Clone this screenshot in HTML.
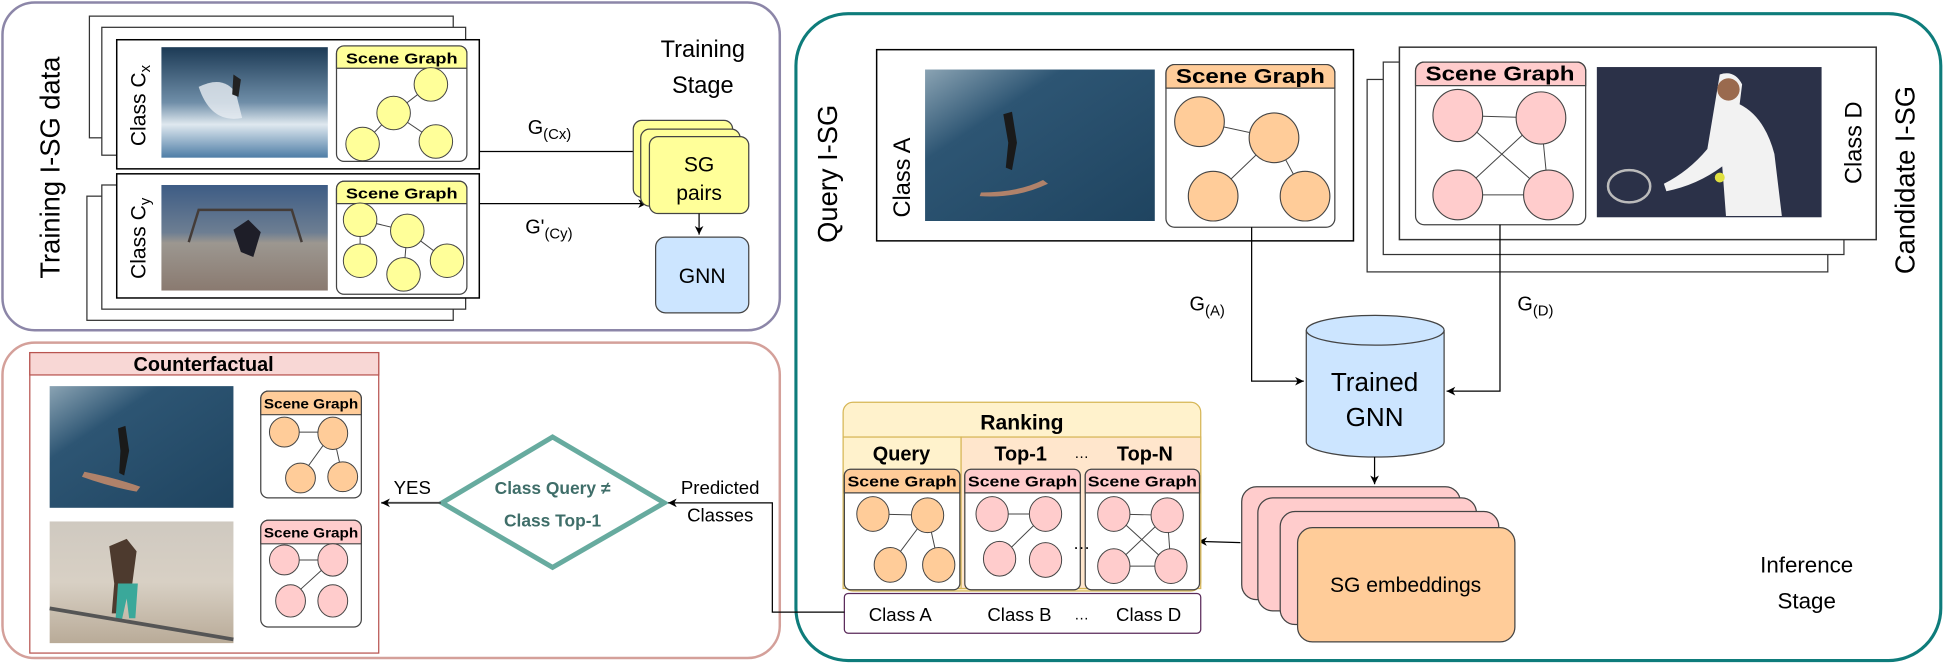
<!DOCTYPE html>
<html><head><meta charset="utf-8"><style>
html,body{margin:0;padding:0;background:#fff;}
svg{display:block;}
text{font-family:"Liberation Sans",sans-serif;}
</style></head><body>
<svg width="1947" height="663" viewBox="0 0 1568 534" preserveAspectRatio="none" xmlns="http://www.w3.org/2000/svg">
<defs>
<marker id="ah" markerWidth="8" markerHeight="8" refX="7" refY="4" orient="auto" markerUnits="userSpaceOnUse"><path d="M0,0.5 L7,4 L0,7.5 L2,4 z" fill="#000"/></marker>
<linearGradient id="surf1" x1="0" y1="0" x2="0" y2="1"><stop offset="0" stop-color="#1c3a55"/><stop offset="0.5" stop-color="#6f8ea8"/><stop offset="0.7" stop-color="#dfe8ef"/><stop offset="1" stop-color="#4e7da6"/></linearGradient>
<linearGradient id="surf2" x1="0" y1="0" x2="1" y2="1"><stop offset="0" stop-color="#8aa3b3"/><stop offset="0.3" stop-color="#2d5573"/><stop offset="1" stop-color="#1f4460"/></linearGradient>
<linearGradient id="skate" x1="0" y1="0" x2="0" y2="1"><stop offset="0" stop-color="#3d5c85"/><stop offset="0.45" stop-color="#6d7e92"/><stop offset="0.55" stop-color="#9c9790"/><stop offset="1" stop-color="#8a7a70"/></linearGradient>
<linearGradient id="snow" x1="0" y1="0" x2="0" y2="1"><stop offset="0" stop-color="#cfc9c0"/><stop offset="0.5" stop-color="#d8d0c4"/><stop offset="1" stop-color="#b9ab98"/></linearGradient>
</defs>

<!-- ===== Training box ===== -->
<rect x="2" y="2" width="626" height="264" rx="26" fill="#fff" stroke="#8c86a8" stroke-width="2"/>
<text transform="translate(48,135) rotate(-90)" font-size="22" text-anchor="middle">Training I-SG data</text>
<text x="566" y="46" font-size="19" text-anchor="middle">Training</text>
<text x="566" y="75" font-size="19" text-anchor="middle">Stage</text>
<!-- top stack -->
<rect x="72" y="13" width="293" height="98" fill="#fff" stroke="#333" stroke-width="1"/>
<rect x="82" y="22" width="293" height="103" fill="#fff" stroke="#333" stroke-width="1"/>
<rect x="94" y="32" width="292" height="104" fill="#fff" stroke="#000" stroke-width="1.2"/>
<text transform="translate(117,85) rotate(-90)" font-size="17" text-anchor="middle">Class C<tspan font-size="12" dy="4">x</tspan></text>
<rect x="130" y="38" width="134" height="89" fill="url(#surf1)"/>
<path d="M160,70 q20,-10 30,5 l5,20 q-25,5 -35,-25z" fill="#e8eef2" opacity="0.8"/>
<path d="M188,60 l6,4 l-2,14 l-5,-2z" fill="#222"/>
<rect x="271" y="37" width="105" height="93" rx="6" fill="#fff" stroke="#444"/>
<path d="M271,55 v-12 a6,6 0 0 1 6,-6 h93 a6,6 0 0 1 6,6 v12z" fill="#ffff99" stroke="#444"/>
<text x="323.5" y="51" font-size="12" font-weight="bold" text-anchor="middle" textLength="90" lengthAdjust="spacingAndGlyphs">Scene Graph</text>
<g stroke="#444" stroke-width="0.8"><line x1="347" y1="68" x2="317" y2="91"/><line x1="317" y1="91" x2="292" y2="116"/><line x1="317" y1="91" x2="351" y2="114"/></g>
<g fill="#ffff99" stroke="#444" stroke-width="0.8">
<ellipse cx="347" cy="68" rx="13.5" ry="13.5"/><ellipse cx="317" cy="91" rx="13.5" ry="13.5"/><ellipse cx="292" cy="116" rx="13.5" ry="13.5"/><ellipse cx="351" cy="114" rx="13.5" ry="13.5"/></g>
<!-- bottom stack -->
<rect x="70" y="158" width="295" height="100" fill="#fff" stroke="#333"/>
<rect x="82" y="149" width="293" height="100" fill="#fff" stroke="#333"/>
<rect x="94" y="140" width="292" height="100" fill="#fff" stroke="#000" stroke-width="1.2"/>
<text transform="translate(117,192) rotate(-90)" font-size="17" text-anchor="middle">Class C<tspan font-size="12" dy="4">y</tspan></text>
<rect x="130" y="149" width="134" height="85" fill="url(#skate)"/>
<path d="M152,195 l8,-26 h75 l8,26" fill="none" stroke="#443c38" stroke-width="2"/>
<path d="M188,185 l12,-8 l10,10 l-6,20 l-10,-4z" fill="#1e1e28"/>
<rect x="271" y="146" width="105" height="91" rx="6" fill="#fff" stroke="#444"/>
<path d="M271,164 v-12 a6,6 0 0 1 6,-6 h93 a6,6 0 0 1 6,6 v12z" fill="#ffff99" stroke="#444"/>
<text x="323.5" y="160" font-size="12" font-weight="bold" text-anchor="middle" textLength="90" lengthAdjust="spacingAndGlyphs">Scene Graph</text>
<g stroke="#444" stroke-width="0.8"><line x1="290" y1="177" x2="328" y2="186"/><line x1="290" y1="177" x2="290" y2="210"/><line x1="328" y1="186" x2="325" y2="221"/><line x1="328" y1="186" x2="360" y2="210"/></g>
<g fill="#ffff99" stroke="#444" stroke-width="0.8">
<ellipse cx="290" cy="177" rx="13.5" ry="13.5"/><ellipse cx="328" cy="186" rx="13.5" ry="13.5"/><ellipse cx="290" cy="210" rx="13.5" ry="13.5"/><ellipse cx="325" cy="221" rx="13.5" ry="13.5"/><ellipse cx="360" cy="210" rx="13.5" ry="13.5"/></g>
<!-- arrows to SG pairs -->
<line x1="386" y1="122" x2="521" y2="122" stroke="#000" stroke-width="1" marker-end="url(#ah)"/>
<line x1="386" y1="164" x2="521" y2="164" stroke="#000" stroke-width="1" marker-end="url(#ah)"/>
<text x="425" y="108" font-size="16">G<tspan font-size="12" dy="4">(Cx)</tspan></text>
<text x="423" y="188" font-size="16">G'<tspan font-size="12" dy="4">(Cy)</tspan></text>
<g fill="#ffff99" stroke="#444" stroke-width="1">
<rect x="510" y="97" width="80" height="62" rx="7"/><rect x="516" y="104" width="80" height="62" rx="7"/><rect x="523" y="110" width="80" height="62" rx="7"/></g>
<text x="563" y="138" font-size="17" text-anchor="middle">SG</text>
<text x="563" y="161" font-size="17" text-anchor="middle">pairs</text>
<line x1="563" y1="172" x2="563" y2="189" stroke="#000" marker-end="url(#ah)"/>
<rect x="528" y="191" width="75" height="61" rx="8" fill="#cce5ff" stroke="#444"/>
<text x="565.5" y="228" font-size="17" text-anchor="middle">GNN</text>

<!-- ===== Inference box ===== -->
<rect x="641" y="11" width="922" height="521" rx="42" fill="none" stroke="#0e7c7b" stroke-width="2.5"/>
<text transform="translate(674,140) rotate(-90)" font-size="22" text-anchor="middle">Query I-SG</text>
<text transform="translate(1542,145) rotate(-90)" font-size="22" text-anchor="middle">Candidate I-SG</text>
<rect x="706" y="40" width="384" height="154" fill="#fff" stroke="#000" stroke-width="1.2"/>
<text transform="translate(733,143) rotate(-90)" font-size="19" text-anchor="middle">Class A</text>
<rect x="745" y="56" width="185" height="122" fill="url(#surf2)"/>
<path d="M790,155 q30,0 50,-10 l4,3 q-25,12 -55,10z" fill="#b0826a"/>
<path d="M808,92 l7,-2 l4,25 l-4,22 l-5,-2 l2,-20z" fill="#1a1a1a"/>
<rect x="939" y="52" width="136" height="131" rx="7" fill="#fff" stroke="#444"/>
<path d="M939,71 v-12 a7,7 0 0 1 7,-7 h122 a7,7 0 0 1 7,7 v12z" fill="#ffcc99" stroke="#444"/>
<text x="1007" y="67" font-size="16" font-weight="bold" text-anchor="middle" textLength="120" lengthAdjust="spacingAndGlyphs">Scene Graph</text>
<g stroke="#444" stroke-width="0.8"><line x1="966" y1="98" x2="1026" y2="111"/><line x1="1026" y1="111" x2="977" y2="158"/><line x1="1026" y1="111" x2="1051" y2="158"/></g>
<g fill="#ffcc99" stroke="#444" stroke-width="0.9">
<ellipse cx="966" cy="98" rx="20" ry="20"/><ellipse cx="1026" cy="111" rx="20" ry="20"/><ellipse cx="977" cy="158" rx="20" ry="20"/><ellipse cx="1051" cy="158" rx="20" ry="20"/></g>
<!-- candidate -->
<rect x="1101" y="64" width="371" height="155" fill="#fff" stroke="#333"/>
<rect x="1114" y="50" width="371" height="155" fill="#fff" stroke="#333"/>
<rect x="1127" y="38" width="384" height="155" fill="#fff" stroke="#333" stroke-width="1.2"/>
<rect x="1140" y="50" width="137" height="131" rx="7" fill="#fff" stroke="#444"/>
<path d="M1140,69 v-12 a7,7 0 0 1 7,-7 h123 a7,7 0 0 1 7,7 v12z" fill="#ffcccc" stroke="#444"/>
<text x="1208" y="65" font-size="16" font-weight="bold" text-anchor="middle" textLength="120" lengthAdjust="spacingAndGlyphs">Scene Graph</text>
<g stroke="#444" stroke-width="0.8"><line x1="1174" y1="93" x2="1241" y2="95"/><line x1="1174" y1="157" x2="1247" y2="157"/><line x1="1241" y1="95" x2="1247" y2="157"/><line x1="1174" y1="93" x2="1247" y2="157"/><line x1="1241" y1="95" x2="1174" y2="157"/></g>
<g fill="#ffcccc" stroke="#444" stroke-width="0.9">
<ellipse cx="1174" cy="93" rx="20" ry="21"/><ellipse cx="1241" cy="95" rx="20" ry="21"/><ellipse cx="1174" cy="157" rx="20" ry="20"/><ellipse cx="1247" cy="157" rx="20" ry="20"/></g>
<rect x="1286" y="54" width="181" height="121" fill="#2b3148"/>
<path d="M1385,60 q12,-4 18,8 l-2,16 q20,10 28,40 l6,50 h-45 l-3,-40 q-20,15 -45,20 l-2,-6 q20,-10 35,-28z" fill="#f2f2f2"/>
<circle cx="1392" cy="72" r="9" fill="#9a6a4e"/>
<ellipse cx="1312" cy="150" rx="17" ry="13" fill="none" stroke="#bbb" stroke-width="2"/>
<circle cx="1385" cy="143" r="4" fill="#e0e040"/>
<text transform="translate(1499,115) rotate(-90)" font-size="19" text-anchor="middle">Class D</text>
<!-- connectors to cylinder -->
<polyline points="1008,183 1008,307 1050,307" fill="none" stroke="#000" marker-end="url(#ah)"/>
<polyline points="1208,181 1208,315 1165,315" fill="none" stroke="#000" marker-end="url(#ah)"/>
<text x="958" y="250" font-size="16">G<tspan font-size="12" dy="4">(A)</tspan></text>
<text x="1222" y="250" font-size="16">G<tspan font-size="12" dy="4">(D)</tspan></text>
<!-- cylinder -->
<path d="M1052,266 v90 a55,12 0 0 0 111,0 v-90" fill="#cce5ff" stroke="#444"/>
<ellipse cx="1107.5" cy="266" rx="55.5" ry="12" fill="#cce5ff" stroke="#444"/>
<text x="1107" y="315" font-size="21" text-anchor="middle">Trained</text>
<text x="1107" y="343" font-size="21" text-anchor="middle">GNN</text>
<line x1="1107" y1="368" x2="1107" y2="390" stroke="#000" marker-end="url(#ah)"/>
<!-- SG embeddings -->
<g stroke="#444" stroke-width="1">
<rect x="1000" y="392" width="176" height="91" rx="12" fill="#ffcccc"/>
<rect x="1013" y="401" width="176" height="91" rx="12" fill="#ffcccc"/>
<rect x="1031" y="412" width="176" height="91" rx="12" fill="#ffcccc"/>
<rect x="1045" y="425" width="175" height="92" rx="12" fill="#ffcc99"/></g>
<text x="1132" y="477" font-size="17" text-anchor="middle">SG embeddings</text>
<line x1="999" y1="437" x2="965" y2="436" stroke="#000" marker-end="url(#ah)"/>
<text x="1455" y="461" font-size="18" text-anchor="middle">Inference</text>
<text x="1455" y="490" font-size="18" text-anchor="middle">Stage</text>

<!-- Ranking -->
<rect x="679" y="324" width="288" height="152" rx="8" fill="#fff2cc" stroke="#d6b656"/>
<text x="823" y="346" font-size="17" font-weight="bold" text-anchor="middle">Ranking</text>
<rect x="679" y="352" width="95" height="122" fill="#fff2cc" stroke="#d6b656"/>
<rect x="774" y="352" width="193" height="122" fill="#ffe6cc" stroke="#d6b656"/>
<text x="726" y="371" font-size="16" font-weight="bold" text-anchor="middle">Query</text>
<text x="822" y="371" font-size="16" font-weight="bold" text-anchor="middle">Top-1</text>
<text x="871" y="369" font-size="12" text-anchor="middle">…</text>
<text x="922" y="371" font-size="16" font-weight="bold" text-anchor="middle">Top-N</text>
<g stroke="#444" stroke-width="1" fill="#fff">
<rect x="680" y="378" width="93" height="97" rx="5"/><rect x="777" y="378" width="93" height="97" rx="5"/><rect x="874" y="378" width="92" height="97" rx="5"/></g>
<path d="M680,397 v-14 a5,5 0 0 1 5,-5 h83 a5,5 0 0 1 5,5 v14z" fill="#ffcc99" stroke="#444"/>
<path d="M777,397 v-14 a5,5 0 0 1 5,-5 h83 a5,5 0 0 1 5,5 v14z" fill="#ffcccc" stroke="#444"/>
<path d="M874,397 v-14 a5,5 0 0 1 5,-5 h82 a5,5 0 0 1 5,5 v14z" fill="#ffcccc" stroke="#444"/>
<text x="726.5" y="392" font-size="12" font-weight="bold" text-anchor="middle" textLength="88" lengthAdjust="spacingAndGlyphs">Scene Graph</text>
<text x="823.5" y="392" font-size="12" font-weight="bold" text-anchor="middle" textLength="88" lengthAdjust="spacingAndGlyphs">Scene Graph</text>
<text x="920" y="392" font-size="12" font-weight="bold" text-anchor="middle" textLength="88" lengthAdjust="spacingAndGlyphs">Scene Graph</text>
<g stroke="#444" stroke-width="0.8">
<line x1="703" y1="414" x2="747" y2="415"/><line x1="747" y1="415" x2="717" y2="455"/><line x1="747" y1="415" x2="756" y2="455"/>
<line x1="799" y1="414" x2="842" y2="414"/><line x1="842" y1="414" x2="805" y2="450"/>
<line x1="897" y1="414" x2="940" y2="415"/><line x1="897" y1="414" x2="943" y2="456"/><line x1="940" y1="415" x2="897" y2="456"/><line x1="897" y1="456" x2="943" y2="456"/><line x1="940" y1="415" x2="943" y2="456"/></g>
<g fill="#ffcc99" stroke="#444" stroke-width="0.8">
<ellipse cx="703" cy="414" rx="13" ry="14"/><ellipse cx="747" cy="415" rx="13" ry="14"/><ellipse cx="717" cy="455" rx="13" ry="14"/><ellipse cx="756" cy="455" rx="13" ry="14"/></g>
<g fill="#ffcccc" stroke="#444" stroke-width="0.8">
<ellipse cx="799" cy="414" rx="13" ry="14"/><ellipse cx="842" cy="414" rx="13" ry="14"/><ellipse cx="805" cy="450" rx="13" ry="14"/><ellipse cx="842" cy="451" rx="13" ry="14"/>
<ellipse cx="897" cy="414" rx="13" ry="14"/><ellipse cx="940" cy="415" rx="13" ry="14"/><ellipse cx="897" cy="456" rx="13" ry="14"/><ellipse cx="943" cy="456" rx="13" ry="14"/></g>
<text x="871" y="442" font-size="14" text-anchor="middle">…</text>
<rect x="680" y="478" width="287" height="32" rx="3" fill="#fff" stroke="#5a2a5a"/>
<text x="725" y="500" font-size="15" text-anchor="middle">Class A</text>
<text x="821" y="500" font-size="15" text-anchor="middle">Class B</text>
<text x="871" y="499" font-size="12" text-anchor="middle">…</text>
<text x="925" y="500" font-size="15" text-anchor="middle">Class D</text>

<!-- ===== Counterfactual box ===== -->
<rect x="2" y="276" width="626" height="254" rx="26" fill="none" stroke="#d4a09a" stroke-width="2"/>
<rect x="24" y="284" width="281" height="242" fill="#fff" stroke="#b85450" stroke-width="1"/>
<rect x="24" y="284" width="281" height="18" fill="#f8d7d5" stroke="#b85450"/>
<text x="164" y="299" font-size="16" font-weight="bold" text-anchor="middle">Counterfactual</text>
<rect x="40" y="311" width="148" height="98" fill="url(#surf2)"/>
<path d="M68,380 q25,5 45,12 l-3,4 q-22,-4 -44,-12z" fill="#b0826a"/>
<path d="M95,345 l6,-2 l3,20 l-4,20 l-4,-2 l1,-18z" fill="#1a1a1a"/>
<rect x="40" y="420" width="148" height="98" fill="url(#snow)"/>
<path d="M88,440 l14,-6 l8,10 l-4,30 h-6 l-4,20 h-6 l2,-24z" fill="#4d3a2e"/>
<path d="M95,470 h16 l-2,28 h-5 l-2,-16 l-4,18 h-5z" fill="#3aa89a"/>
<line x1="40" y1="490" x2="188" y2="515" stroke="#555" stroke-width="3"/>
<rect x="210" y="315" width="81" height="86" rx="6" fill="#fff" stroke="#444"/>
<path d="M210,334 v-13 a6,6 0 0 1 6,-6 h69 a6,6 0 0 1 6,6 v13z" fill="#ffcc99" stroke="#444"/>
<text x="250.5" y="329" font-size="11" font-weight="bold" text-anchor="middle" textLength="76" lengthAdjust="spacingAndGlyphs">Scene Graph</text>
<g stroke="#444" stroke-width="0.8"><line x1="229" y1="348" x2="268" y2="348"/><line x1="268" y1="348" x2="242" y2="384"/><line x1="268" y1="348" x2="276" y2="384"/></g>
<g fill="#ffcc99" stroke="#444" stroke-width="0.8"><ellipse cx="229" cy="348" rx="12" ry="12"/><ellipse cx="268" cy="349" rx="12" ry="13"/><ellipse cx="242" cy="385" rx="12" ry="12"/><ellipse cx="276" cy="384" rx="12" ry="12"/></g>
<rect x="210" y="419" width="81" height="86" rx="6" fill="#fff" stroke="#444"/>
<path d="M210,438 v-13 a6,6 0 0 1 6,-6 h69 a6,6 0 0 1 6,6 v13z" fill="#ffcccc" stroke="#444"/>
<text x="250.5" y="433" font-size="11" font-weight="bold" text-anchor="middle" textLength="76" lengthAdjust="spacingAndGlyphs">Scene Graph</text>
<g stroke="#444" stroke-width="0.8"><line x1="229" y1="451" x2="268" y2="451"/><line x1="268" y1="451" x2="234" y2="482"/></g>
<g fill="#ffcccc" stroke="#444" stroke-width="0.8"><ellipse cx="229" cy="451" rx="12" ry="12"/><ellipse cx="268" cy="451" rx="12" ry="13"/><ellipse cx="234" cy="484" rx="12" ry="13"/><ellipse cx="268" cy="484" rx="12" ry="13"/></g>
<!-- diamond -->
<polygon points="445,352 535,405 445,457 356,405" fill="#fff" stroke="#67ab9f" stroke-width="4"/>
<text x="445" y="398" font-size="14" font-weight="bold" fill="#3f6e69" text-anchor="middle">Class Query ≠</text>
<text x="445" y="424" font-size="14" font-weight="bold" fill="#3f6e69" text-anchor="middle">Class Top-1</text>
<line x1="355" y1="405" x2="307" y2="405" stroke="#444" stroke-width="1.5" marker-end="url(#ah)"/>
<text x="332" y="398" font-size="15" text-anchor="middle">YES</text>
<polyline points="680,493 622,493 622,405 538,405" fill="none" stroke="#000" marker-end="url(#ah)"/>
<text x="580" y="398" font-size="15" text-anchor="middle">Predicted</text>
<text x="580" y="420" font-size="15" text-anchor="middle">Classes</text>
</svg>
</body></html>
